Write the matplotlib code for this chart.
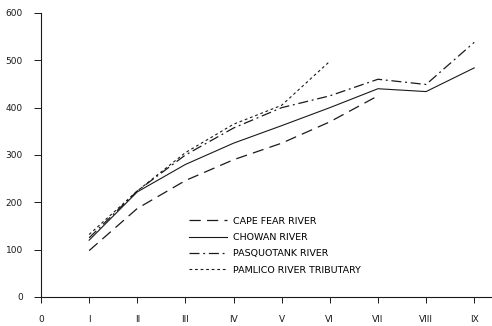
import matplotlib
matplotlib.use("Agg")
import matplotlib.pyplot as plt

x_labels = ["0", "I", "II", "III", "IV", "V", "VI", "VII", "VIII", "IX"]
y_ticks = [0, 100, 200, 300, 400, 500, 600]

cape_fear_x = [1, 2, 3, 4, 5, 6, 7]
cape_fear_y = [98, 187, 246, 290, 325, 370, 425]

chowan_x = [1, 2, 3, 4, 5, 6, 7, 8, 9]
chowan_y = [120, 222, 280, 325, 362, 400, 440, 434, 484]

pasquotank_x = [1, 2, 3, 4, 5, 6, 7, 8, 9]
pasquotank_y = [125, 224, 300, 357, 400, 425, 460, 449, 538]

pamlico_x = [1, 2, 3, 4, 5, 6]
pamlico_y = [132, 224, 305, 365, 405, 498]

plt.rcParams['font.family'] = ['DejaVu Sans']

fig = plt.figure(figsize=(4.92, 3.26), dpi=100)
ax = fig.add_axes([41/492, 1-297/326, 1-41/492, (297-13)/326])

c = "#1a1a1a"
ax.plot(cape_fear_x, cape_fear_y, color=c, lw=0.9, dashes=(9, 5), label="CAPE FEAR RIVER")
ax.plot(chowan_x, chowan_y, color=c, lw=0.8, label="CHOWAN RIVER")
ax.plot(pasquotank_x, pasquotank_y, color=c, lw=0.9, dashes=(8, 3, 1.5, 3), label="PASQUOTANK RIVER")
ax.plot(pamlico_x, pamlico_y, color=c, lw=0.8, dashes=(2.5, 2.5), label="PAMLICO RIVER TRIBUTARY")

ax.set_xlim(0, 9.37)
ax.set_ylim(0, 600)
for s in ["top", "right"]:
    ax.spines[s].set_visible(False)
ax.spines["left"].set_linewidth(0.8)
ax.spines["bottom"].set_linewidth(0.8)
ax.spines["left"].set_color(c)
ax.spines["bottom"].set_color(c)

ax.set_yticks(y_ticks)
ax.set_yticklabels([str(v) for v in y_ticks], fontsize=6.5, color="#222222")
ax.set_xticks(range(len(x_labels)))
ax.set_xticklabels(x_labels, fontsize=6.5, color="#222222")
ax.tick_params(axis="y", direction="out", length=5, width=0.7, pad=8, colors=c)
ax.tick_params(axis="x", direction="out", length=4, width=0.7, pad=9, colors=c)

leg = ax.legend(loc="upper left", bbox_to_anchor=(0.318, 0.30), frameon=False,
                fontsize=6.8, handlelength=4.0, handletextpad=0.6,
                labelspacing=0.78, borderpad=0)

fig.savefig("out.png", dpi=100)
